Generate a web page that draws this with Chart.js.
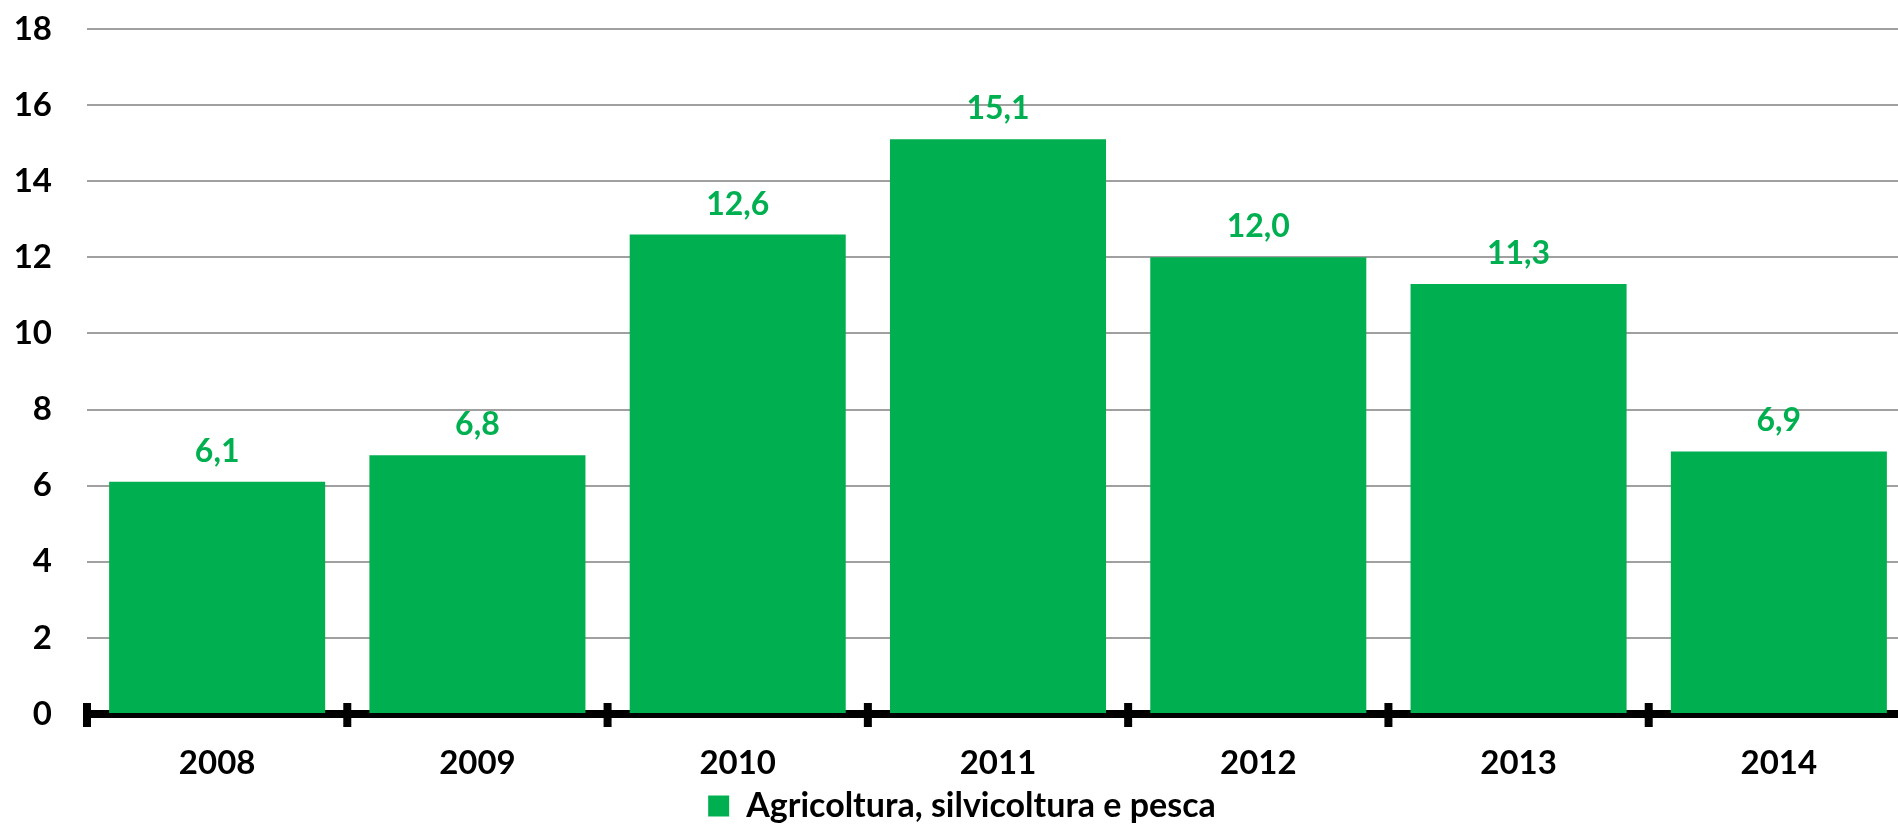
<!DOCTYPE html>
<html>
<head>
<meta charset="utf-8">
<script src="https://cdn.jsdelivr.net/npm/chart.js@4.4.0/dist/chart.umd.min.js"></script>
<style>
  html, body { margin: 0; padding: 0; background: #fff; overflow: hidden; }
  #box { position: relative; width: 1912px; height: 826px; }
</style>
</head>
<body>
<div id="box"><canvas id="grafico"></canvas></div>
<script>
const anni = ['2008', '2009', '2010', '2011', '2012', '2013', '2014'];
const valori = [6.1, 6.8, 12.6, 15.1, 12.0, 11.3, 6.9];
const etichettaSerie = 'Agricoltura, silvicoltura e pesca';
const tickY = [0, 2, 4, 6, 8, 10, 12, 14, 16, 18];

const verde = '#00B050';
const font = 'Lato, "Open Sans", sans-serif';

// etichette sopra le barre (virgola decimale)
const etichette = {
  id: 'etichette',
  afterDatasetsDraw(chart) {
    const ctx = chart.ctx;
    const meta = chart.getDatasetMeta(0);
    ctx.save();
    ctx.font = 'bold 32px ' + font;
    ctx.fillStyle = verde;
    ctx.textAlign = 'center';
    ctx.textBaseline = 'alphabetic';
    meta.data.forEach((bar, i) => {
      ctx.fillText(valori[i].toFixed(1).replace('.', ','), bar.x, bar.y - 20);
    });
    ctx.restore();
  }
};

// tacche nere sull'asse x tra le categorie
const tacche = {
  id: 'tacche',
  afterDraw(chart) {
    const x = chart.scales.x;
    const ctx = chart.ctx;
    const y0 = chart.chartArea.bottom;
    const passo = x.width / anni.length;
    ctx.save();
    ctx.fillStyle = '#000';
    for (let i = 0; i <= anni.length; i++) {
      const px = x.left + i * passo;
      ctx.fillRect(px - 4, y0 - 11, 8, 24);
    }
    ctx.restore();
  }
};

const ctx = document.getElementById('grafico').getContext('2d');
new Chart(ctx, {
  type: 'bar',
  data: {
    labels: anni,
    datasets: [{
      label: etichettaSerie,
      data: valori,
      backgroundColor: verde,
      borderWidth: 0,
      barPercentage: 0.83,
      categoryPercentage: 1.0
    }]
  },
  options: {
    responsive: true,
    maintainAspectRatio: false,
    animation: false,
    layout: { padding: { top: 29, left: 15, right: 3, bottom: 0 } },
    plugins: {
      tooltip: { enabled: false },
      legend: {
        position: 'bottom',
        maxHeight: 37,
        labels: {
          boxWidth: 21,
          boxHeight: 21,
          padding: 0,
          color: '#000',
          font: { family: font, size: 34, weight: 'bold' }
        }
      }
    },
    scales: {
      x: {
        afterFit: (scale) => { scale.height = 75; },
        grid: { display: false, drawTicks: false },
        border: { display: true, color: '#000', width: 8 },
        ticks: {
          color: '#000',
          padding: 30,
          font: { family: font, size: 33, weight: 'bold' }
        }
      },
      y: {
        min: 0,
        max: 18,
        afterFit: (scale) => {
          scale.width = 72;
          scale.paddingTop = 0;
          scale.paddingBottom = 0;
        },
        afterBuildTicks: (scale) => { scale.ticks = tickY.map(v => ({ value: v })); },
        grid: { color: '#A0A0A0', lineWidth: 2, drawTicks: false },
        border: { display: false },
        ticks: {
          color: '#000',
          padding: 35,
          font: { family: font, size: 33, weight: 'bold' }
        }
      }
    }
  },
  plugins: [etichette, tacche]
});
</script>
</body>
</html>
